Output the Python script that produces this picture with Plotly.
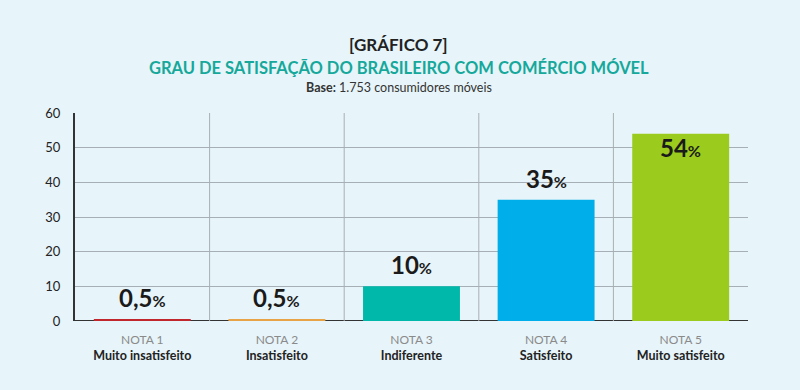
import plotly.graph_objects as go

notas = ["NOTA 1", "NOTA 2", "NOTA 3", "NOTA 4", "NOTA 5"]
descricoes = ["Muito insatisfeito", "Insatisfeito", "Indiferente", "Satisfeito", "Muito satisfeito"]
valores = [0.5, 0.5, 10, 35, 54]
rotulos = ["0,5", "0,5", "10", "35", "54"]
cores = ["#C0262C", "#E9A347", "#00B8A9", "#00AEEA", "#9BCB1C"]
y_ticks = [0, 10, 20, 30, 40, 50, 60]

BG = "#E7F4F9"
FONT = "Lato"
H = 390
T, B = 113, 69
PLOT_H = H - T - B


def py(p):
    return (H - B - p) / PLOT_H


x_idx = list(range(len(notas)))
ticktext = [f"<span style='color:#8a8a8a;font-size:12px'>{n}</span><br><b>{d}</b>" for n, d in zip(notas, descricoes)]

fig = go.Figure(go.Bar(
    x=x_idx, y=valores, marker=dict(color=cores, line=dict(width=0)),
    width=0.72, hoverinfo="skip",
))

anns = []
for i, (v, r) in enumerate(zip(valores, rotulos)):
    txt = f"<b>{r}<span style='font-size:16px'>%</span></b>"
    if v > 50:
        anns.append(dict(x=i, y=v, xref="x", yref="y", text=txt, showarrow=False,
                         yanchor="top", yshift=3, font=dict(family=FONT, size=24, color="#1a1a1a")))
    else:
        anns.append(dict(x=i, y=v, xref="x", yref="y", text=txt, showarrow=False,
                         yanchor="bottom", yshift=5, font=dict(family=FONT, size=24, color="#1a1a1a")))

shapes = []
for i in range(len(notas) - 1):
    shapes.append(dict(type="line", xref="x", yref="y", x0=i + 0.5, x1=i + 0.5, y0=0, y1=y_ticks[-1],
                       line=dict(color="#A7AFB6", width=1), layer="below"))
shapes.append(dict(type="line", xref="paper", yref="y", x0=0, x1=1, y0=0, y1=0,
                   line=dict(color="#333", width=2), layer="below"))

fig.update_layout(
    width=800, height=H,
    paper_bgcolor=BG, plot_bgcolor=BG,
    margin=dict(l=75, r=52, t=T, b=B),
    showlegend=False,
    font=dict(family=FONT, color="#222"),
    annotations=anns + [
        dict(text="<b>[GRÁFICO 7]</b>", x=0.481, y=py(44), xref="paper", yref="paper",
             showarrow=False, font=dict(family=FONT, size=17, color="#222"), xanchor="center", yanchor="middle"),
        dict(text="<b>GRAU DE SATISFAÇÃO DO BRASILEIRO COM COMÉRCIO MÓVEL</b>", x=0.481, y=py(68),
             xref="paper", yref="paper", showarrow=False,
             font=dict(family=FONT, size=16.5, color="#15A89B"), xanchor="center", yanchor="middle"),
        dict(text="<b>Base:</b> 1.753 consumidores móveis", x=0.481, y=py(87),
             xref="paper", yref="paper", showarrow=False,
             font=dict(family=FONT, size=12.5, color="#333"), xanchor="center", yanchor="middle"),
    ],
    shapes=shapes,
    xaxis=dict(
        range=[-0.5, len(notas) - 0.5], tickvals=x_idx, ticktext=ticktext,
        showgrid=False, zeroline=False, showline=False, ticks="",
        tickfont=dict(family=FONT, size=12.5, color="#222"), ticklabelstandoff=9,
    ),
    yaxis=dict(
        range=[0, y_ticks[-1]], tickvals=y_ticks, showgrid=True, gridcolor="#A7AFB6", gridwidth=1,
        zeroline=False, showline=True, linecolor="#333", linewidth=2, ticks="",
        tickprefix="<b>", ticksuffix="</b>",
        tickfont=dict(family=FONT, size=13, color="#222"), ticklabelstandoff=10,
    ),
)

fig.write_html("out.html", config={"displayModeBar": False},
               post_script="document.body.style.margin='0';document.body.style.overflow='hidden';")
